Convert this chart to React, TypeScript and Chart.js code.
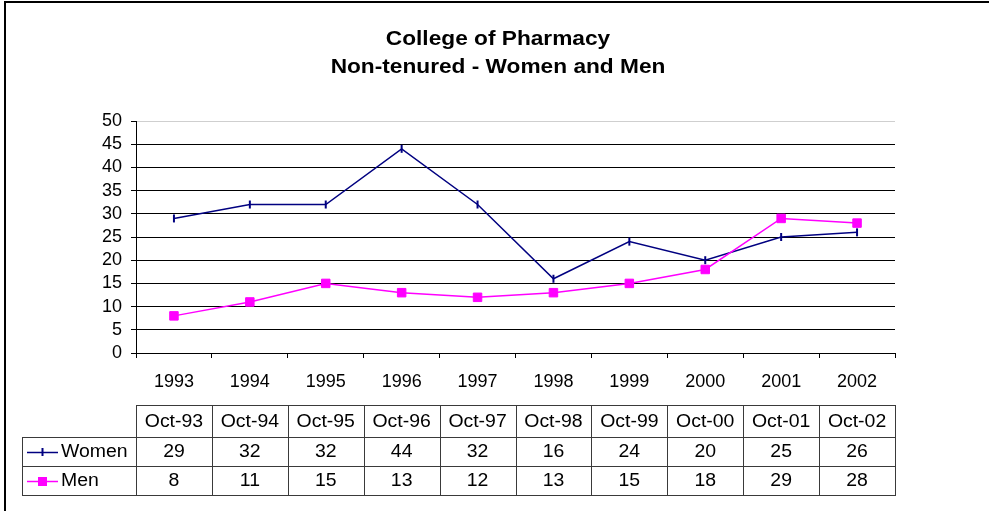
import { useEffect, useRef } from "react";
import { Chart, registerables } from "chart.js";

Chart.register(...registerables);

const years = ["1993", "1994", "1995", "1996", "1997", "1998", "1999", "2000", "2001", "2002"];
const tableHeaders = ["Oct-93", "Oct-94", "Oct-95", "Oct-96", "Oct-97", "Oct-98", "Oct-99", "Oct-00", "Oct-01", "Oct-02"];
const women = [29, 32, 32, 44, 32, 16, 24, 20, 25, 26];
const men = [8, 11, 15, 13, 12, 13, 15, 18, 29, 28];
const seriesNames = ["Women", "Men"];
const titleLines = ["College of Pharmacy", "Non-tenured - Women and Men"];
const yMin = 0;
const yMax = 50;
const yStep = 5;

const FONT = "'Liberation Sans', Arial, sans-serif";
const NAVY = "#000080";
const MAGENTA = "#FF00FF";

const overlay = {
  id: "overlay",
  afterDraw(chart: any) {
    const ctx: CanvasRenderingContext2D = chart.ctx;
    const x = chart.scales.x;
    const n = years.length;
    const cw = x.width / n;
    const left0 = x.left;
    const right0 = x.right;
    ctx.save();

    // outer frame
    ctx.strokeStyle = "#000";
    ctx.lineWidth = 2;
    ctx.beginPath();
    ctx.moveTo(5, 511);
    ctx.lineTo(5, 2);
    ctx.lineTo(989, 2);
    ctx.stroke();

    // title
    ctx.fillStyle = "#000";
    ctx.font = `bold 21px ${FONT}`;
    ctx.textAlign = "center";
    ctx.textBaseline = "middle";
    const tx = 498;
    [39, 67].forEach((ty, i) => {
      ctx.save();
      ctx.translate(tx, ty);
      ctx.scale(1.08, 1);
      ctx.fillText(titleLines[i], 0, 0);
      ctx.restore();
    });

    // data table
    const rowTop = 405;
    const rowH1 = 437;
    const rowH2 = 466;
    const rowBottom = 495;
    const labelLeft = 22;
    ctx.strokeStyle = "#3a3a3a";
    ctx.lineWidth = 1;
    ctx.beginPath();
    ctx.moveTo(left0, rowTop + 0.5);
    ctx.lineTo(right0 + 1, rowTop + 0.5);
    [rowH1, rowH2, rowBottom].forEach((yy) => {
      ctx.moveTo(labelLeft, yy + 0.5);
      ctx.lineTo(right0 + 1, yy + 0.5);
    });
    for (let i = 0; i <= n; i++) {
      const xx = Math.round(left0 + i * cw) + 0.5;
      ctx.moveTo(xx, rowTop);
      ctx.lineTo(xx, rowBottom + 1);
    }
    ctx.moveTo(labelLeft + 0.5, rowH1);
    ctx.lineTo(labelLeft + 0.5, rowBottom + 1);
    ctx.stroke();

    const drawText = (t: string, px: number, py: number, align: CanvasTextAlign) => {
      ctx.save();
      ctx.translate(px, py);
      ctx.scale(1.08, 1);
      ctx.textAlign = align;
      ctx.fillText(t, 0, 0);
      ctx.restore();
    };
    ctx.font = `18px ${FONT}`;
    ctx.fillStyle = "#000";
    ctx.textBaseline = "middle";
    const rowsY = [422, 452, 481];
    for (let i = 0; i < n; i++) {
      const cx = x.getPixelForValue(i);
      drawText(tableHeaders[i], cx, rowsY[0], "center");
      drawText(String(women[i]), cx, rowsY[1], "center");
      drawText(String(men[i]), cx, rowsY[2], "center");
    }
    drawText(seriesNames[0], 61, rowsY[1], "left");
    drawText(seriesNames[1], 61, rowsY[2], "left");

    // legend keys
    ctx.lineWidth = 1.5;
    ctx.strokeStyle = NAVY;
    ctx.beginPath();
    ctx.moveTo(27, rowsY[1] + 0.5);
    ctx.lineTo(58, rowsY[1] + 0.5);
    ctx.stroke();
    ctx.lineWidth = 2;
    ctx.beginPath();
    ctx.moveTo(42.5, rowsY[1] - 4);
    ctx.lineTo(42.5, rowsY[1] + 4);
    ctx.stroke();

    ctx.lineWidth = 1.5;
    ctx.strokeStyle = MAGENTA;
    ctx.beginPath();
    ctx.moveTo(27, rowsY[2] + 0.5);
    ctx.lineTo(58, rowsY[2] + 0.5);
    ctx.stroke();
    ctx.fillStyle = MAGENTA;
    ctx.fillRect(38, rowsY[2] - 4, 9, 9);

    ctx.restore();
  },
};

export default function App() {
  const ref = useRef<HTMLCanvasElement | null>(null);
  useEffect(() => {
    if (!ref.current) return;
    const chart = new Chart(ref.current, {
      type: "line",
      data: {
        labels: years,
        datasets: [
          {
            label: seriesNames[0],
            data: women,
            borderColor: NAVY,
            backgroundColor: NAVY,
            borderWidth: 1.5,
            pointStyle: "line",
            rotation: 90,
            pointRadius: 4,
            pointBorderWidth: 2,
            pointBorderColor: NAVY,
            tension: 0,
            order: 1,
          },
          {
            label: seriesNames[1],
            data: men,
            borderColor: MAGENTA,
            backgroundColor: MAGENTA,
            borderWidth: 1.5,
            pointStyle: "rect",
            pointRadius: 6,
            pointBorderWidth: 1,
            pointBackgroundColor: MAGENTA,
            pointBorderColor: MAGENTA,
            tension: 0,
            order: 0,
          },
        ],
      },
      options: {
        responsive: false,
        animation: false,
        devicePixelRatio: 1,
        layout: { padding: { top: 121, right: 94, left: 0, bottom: 0 } },
        plugins: {
          legend: { display: false },
          tooltip: { enabled: false },
          title: { display: false },
        },
        scales: {
          x: {
            type: "category",
            offset: true,
            grid: {
              offset: true,
              drawOnChartArea: false,
              drawTicks: true,
              tickLength: 5,
              color: "#000",
            },
            border: { color: "#000", width: 1 },
            ticks: {
              color: "#000",
              font: { family: FONT, size: 18 },
              padding: 13,
              maxRotation: 0,
              autoSkip: false,
            },
            afterFit: (s: any) => {
              s.height = 158;
            },
          },
          y: {
            min: yMin,
            max: yMax,
            ticks: {
              stepSize: yStep,
              color: "#000",
              font: { family: FONT, size: 18 },
              padding: 9,
              autoSkip: false,
            },
            grid: {
              color: (c: any) => (c.tick && c.tick.value === yMax ? "#cfcfcf" : "#000"),
              tickColor: "#000",
              tickLength: 5,
              lineWidth: 1,
            },
            border: { color: "#000", width: 1 },
            afterFit: (s: any) => {
              s.width = 136;
            },
          },
        },
      },
      plugins: [overlay],
    });
    return () => chart.destroy();
  }, []);
  return (
    <div style={{ position: "absolute", left: 0, top: 0, width: 989, height: 511, background: "#fff" }}>
      <canvas ref={ref} width={989} height={511} style={{ display: "block" }} />
    </div>
  );
}
